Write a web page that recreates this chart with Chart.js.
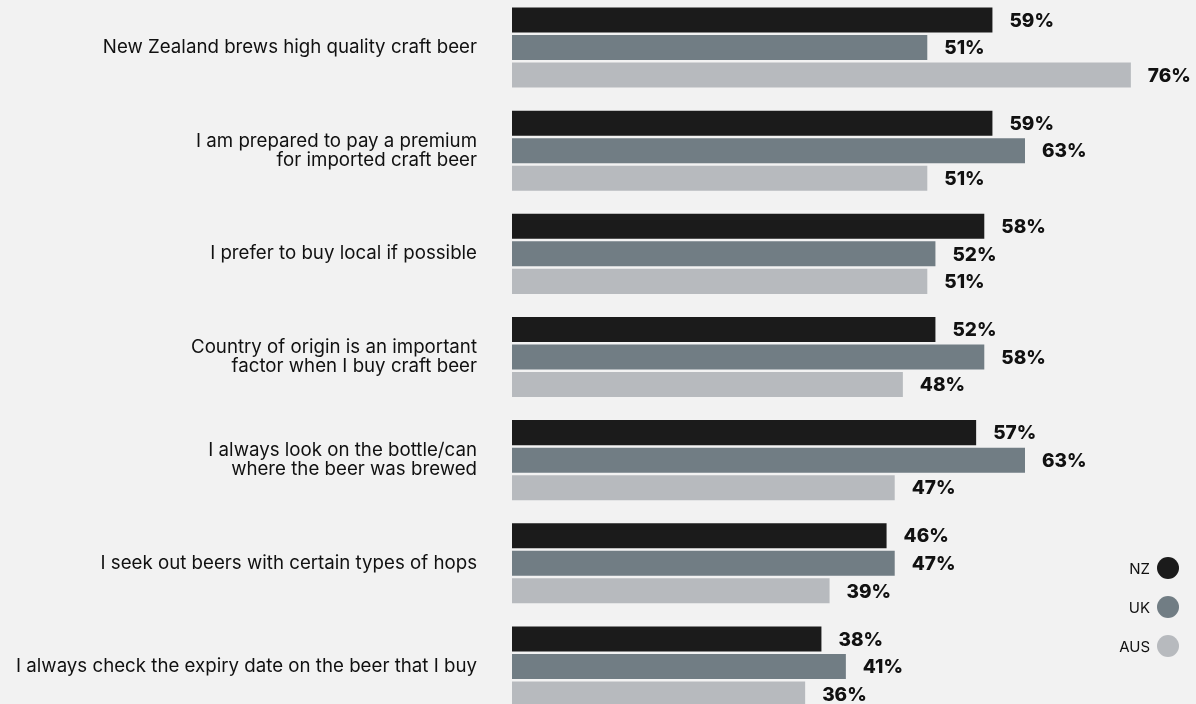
<!DOCTYPE html>
<html>
<head>
<meta charset="utf-8">
<script src="https://cdn.jsdelivr.net/npm/chart.js@4.4.1/dist/chart.umd.min.js"></script>
<style>
    html, body { margin: 0; padding: 0; background: #f2f2f2; overflow: hidden; }
    #wrap { position: absolute; left: 0; top: -4px; width: 1196px; height: 722px; }
</style>
</head>
<body>
<div id="wrap"><canvas id="beerChart"></canvas></div>
<script>
const statements = [
    'New Zealand brews high quality craft beer',
    ['I am prepared to pay a premium', 'for imported craft beer'],
    'I prefer to buy local if possible',
    ['Country of origin is an important', 'factor when I buy craft beer'],
    ['I always look on the bottle/can', 'where the beer was brewed'],
    'I seek out beers with certain types of hops',
    'I always check the expiry date on the beer that I buy'
];
const countries = ['NZ', 'UK', 'AUS'];
const nzValues = [59, 59, 58, 52, 57, 46, 38];
const ukValues = [51, 63, 52, 58, 63, 47, 41];
const ausValues = [76, 51, 51, 48, 47, 39, 36];
const colours = ['#1b1b1b', '#717d84', '#b7babe'];

const FONT = 'Inter, "Open Sans", sans-serif';

// percentage printed just past the end of each bar
const valueLabels = {
    id: 'valueLabels',
    afterDatasetsDraw(chart) {
        const ctx = chart.ctx;
        ctx.save();
        ctx.font = '800 19px ' + FONT;
        ctx.fillStyle = '#111';
        ctx.textAlign = 'left';
        ctx.textBaseline = 'middle';
        chart.data.datasets.forEach((ds, i) => {
            chart.getDatasetMeta(i).data.forEach((bar, j) => {
                ctx.fillText(ds.data[j] + '%', bar.x + 17, bar.y + 1);
            });
        });
        ctx.restore();
    }
};

// legend in the bottom-right corner: label then a dot
const dotLegend = {
    id: 'dotLegend',
    afterDraw(chart) {
        const ctx = chart.ctx;
        const dotX = chart.width - 28;
        const baseY = chart.chartArea.bottom - 150;
        ctx.save();
        ctx.font = '15px ' + FONT;
        ctx.textAlign = 'right';
        ctx.textBaseline = 'middle';
        chart.data.datasets.forEach((ds, i) => {
            const y = baseY + i * 39;
            ctx.fillStyle = ds.backgroundColor;
            ctx.beginPath();
            ctx.arc(dotX, y, 11, 0, Math.PI * 2);
            ctx.fill();
            ctx.fillStyle = '#111';
            ctx.fillText(ds.label, dotX - 18, y + 1);
        });
        ctx.restore();
    }
};

new Chart(document.getElementById('beerChart'), {
    type: 'bar',
    data: {
        labels: statements,
        datasets: [
            { label: countries[0], data: nzValues, backgroundColor: colours[0] },
            { label: countries[1], data: ukValues, backgroundColor: colours[1] },
            { label: countries[2], data: ausValues, backgroundColor: colours[2] }
        ]
    },
    options: {
        indexAxis: 'y',
        responsive: true,
        maintainAspectRatio: false,
        animation: false,
        layout: { padding: 0 },
        datasets: { bar: { categoryPercentage: 0.8, barPercentage: 0.91 } },
        scales: {
            x: { display: false, min: 0, max: 84 },
            y: {
                grid: { display: false, drawTicks: false },
                border: { display: false },
                ticks: { color: '#111', padding: 35, font: { family: FONT, size: 18.7, lineHeight: '19px' } },
                afterFit(scale) {
                    // fixed gutter for the statements, bars fill the full height
                    scale.width = 512;
                    scale.paddingTop = 0;
                    scale.paddingBottom = 0;
                }
            }
        },
        plugins: {
            legend: { display: false },
            tooltip: { enabled: false }
        }
    },
    plugins: [valueLabels, dotLegend]
});
</script>
</body>
</html>
